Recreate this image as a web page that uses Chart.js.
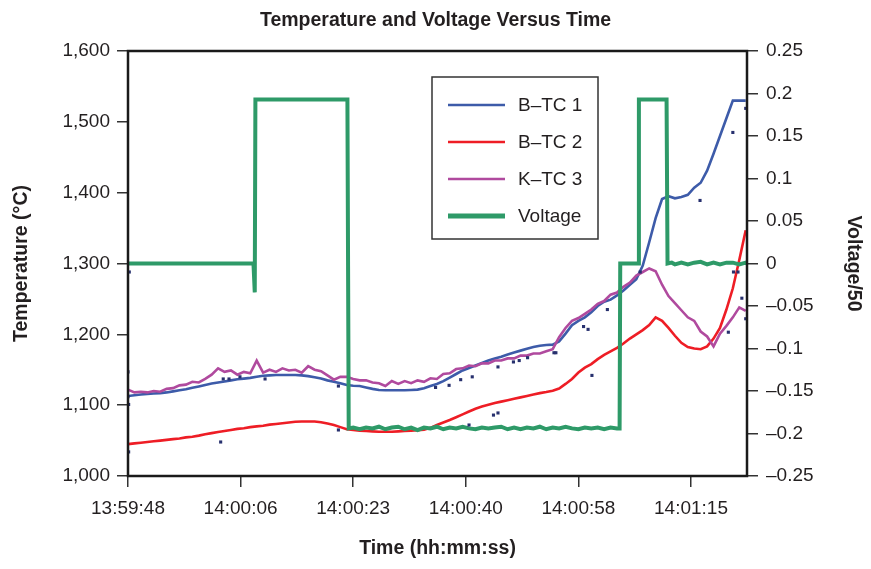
<!DOCTYPE html>
<html>
<head>
<meta charset="utf-8">
<script src="https://cdn.jsdelivr.net/npm/chart.js@4.4.1/dist/chart.umd.min.js"></script>
<style>
html,body{margin:0;padding:0;background:#ffffff;}
#wrap{width:871px;height:569px;position:relative;}
</style>
</head>
<body>
<div id="wrap"><canvas id="c" width="871" height="569"></canvas></div>
<script>
// ---------- data ----------
const xTickValues = [0, 17.5, 35, 52.5, 70, 87.5];
const xTickLabels = ['13:59:48', '14:00:06', '14:00:23', '14:00:40', '14:00:58', '14:01:15'];

const tempTime = [0,1,2,3,4,5,6,7,8,9,10,11,12,13,14,15,16,17,18,19,20,21,22,23,24,25,26,27,28,29,30,31,32,33,34,35,36,37,38,39,40,41,42,43,44,45,46,47,48,49,50,51,52,53,54,55,56,57,58,59,60,61,62,63,64,65,66,67,68,69,70,71,72,73,74,75,76,77,78,79,80,81,82,83,84,85,86,87,88,89,90,91,92,93,94,95,96];

const btc1 = [1113,1114,1115,1116,1116.5,1117,1118,1119.5,1121,1122.5,1124.5,1126.5,1128.5,1130.5,1132,1133.5,1135,1136.5,1137.5,1138.5,1140,1141.5,1142,1142.5,1142.5,1142.5,1142.5,1142,1141,1139.5,1137.5,1135,1133,1131,1128.5,1127.5,1127,1125,1123,1121.5,1121,1121,1121,1121,1121.5,1122,1124,1127,1130,1134,1139,1144,1149,1152.5,1156,1159.5,1163,1166,1168.5,1171.5,1174.5,1177,1179.5,1182,1184,1185,1185.5,1190,1201,1213,1219,1224,1231,1240,1246,1249,1255,1262,1270,1278,1297,1330,1364,1391,1395,1392,1394,1397,1407,1414,1431,1455,1480,1505,1530,1530,1530];

const btc2 = [1045,1046,1047,1048,1049,1050,1051,1052,1053,1054.5,1055.5,1057,1059,1060.5,1062,1063.5,1065,1066.5,1067.5,1069,1070,1071,1072.5,1073.5,1074.5,1075.5,1076.5,1077,1077,1077,1076,1074,1072,1069,1066,1065,1064,1063.5,1063,1062.5,1062.5,1062.5,1063,1063.5,1064,1064.5,1065.5,1068,1072,1075.5,1079,1083,1087,1091,1095,1098,1100.5,1103,1105,1107,1109,1111,1113,1115,1117,1118.5,1120.5,1123.5,1130,1137,1146,1153,1158,1165,1171,1176,1181,1187,1194,1200,1206,1213,1224,1219,1209,1198,1188,1182,1180,1179,1183,1194,1209,1235,1265,1305,1347];

const ktc3 = [1122,1118,1119,1118,1120,1119,1123,1124,1128,1129,1133,1132,1137,1143,1152,1147,1149,1143,1147,1145,1163,1146,1150,1147,1152,1149,1150,1146,1155,1150,1148,1142,1136,1140,1140,1137,1135,1135,1132,1131,1127,1134,1130,1134,1131,1135,1133,1138,1137,1144,1145,1151,1152,1156,1155,1159,1159,1163,1163,1166,1166,1170,1170,1173,1173,1176,1179,1196,1209,1219,1223,1229,1235,1243,1247,1256,1259,1267,1273,1283,1288,1293,1289,1270,1254,1244,1234,1224,1219,1204,1197,1183,1201,1212,1224,1238,1233];

const voltTime = [0,19.5,19.7,19.8,34.1,34.3,35,36,37,38,39,40,41,42,43,44,45,46,47,48,49,50,51,52,53,54,55,56,57,58,59,60,61,62,63,64,65,66,67,68,69,70,71,72,73,74,75,76,76.4,76.5,79.3,79.4,83.7,83.85,84.5,85,86,87,88,89,90,91,92,93,94,95,96,96.2];
const voltage = [0,0,-0.034,0.193,0.193,-0.194,-0.193,-0.195,-0.193,-0.194,-0.192,-0.195,-0.193,-0.192,-0.195,-0.193,-0.196,-0.193,-0.194,-0.192,-0.195,-0.193,-0.194,-0.192,-0.194,-0.195,-0.193,-0.194,-0.193,-0.192,-0.195,-0.193,-0.195,-0.193,-0.194,-0.192,-0.195,-0.193,-0.194,-0.192,-0.194,-0.195,-0.193,-0.194,-0.193,-0.195,-0.193,-0.194,-0.194,0,0,0.193,0.193,0,0.001,-0.001,0.001,-0.001,0.001,0.002,-0.001,0.001,-0.001,0.001,0.001,-0.001,0.001,0];

const dotTime = [0.2,0,0,0.1,0.1,14.4,14.8,15.7,17.4,21.3,32.7,32.7,47.8,49.9,51.7,53.5,57.5,59.9,60.8,62.1,66.2,66.5,56.8,57.5,53.0,70.8,71.5,72.1,74.5,79.6,88.9,94.0,96.0,94.1,94.8,95.4,93.3,96.0];
const dotTemp = [1288,1147,1112,1101,1034,1048,1137,1137,1140,1137,1127,1065,1125,1128,1136,1140,1154,1161,1163,1167,1174,1174,1086,1089,1072,1211,1207,1142,1235,1288,1389,1485,1519,1288,1288,1251,1203,1222];

const seriesLabels = ['B\u2013TC 1', 'B\u2013TC 2', 'K\u2013TC 3', 'Voltage'];

// ---------- helpers ----------
const FONT = '"Liberation Sans", Arial, sans-serif';
const TXT = '#231f20';
const pairs = (xs, ys) => xs.map((x, i) => ({x: x, y: ys[i]}));

const framePlugin = {
  id: 'frame',
  afterDatasetsDraw(chart) {
    const a = chart.chartArea, ctx = chart.ctx;
    ctx.save();
    ctx.strokeStyle = '#1a1a1a';
    ctx.lineWidth = 2.5;
    ctx.strokeRect(a.left, a.top, a.right - a.left, a.bottom - a.top);
    ctx.restore();
  }
};

const legendPlugin = {
  id: 'boxLegend',
  afterDraw(chart) {
    const ctx = chart.ctx;
    const items = chart.data.datasets.filter(d => d.inLegend);
    ctx.save();
    ctx.strokeStyle = '#333333';
    ctx.lineWidth = 1.5;
    ctx.fillStyle = '#ffffff';
    ctx.fillRect(432, 77, 166, 162);
    ctx.strokeRect(432, 77, 166, 162);
    ctx.font = '19px ' + FONT;
    ctx.textBaseline = 'middle';
    ctx.textAlign = 'left';
    items.forEach((d, i) => {
      const y = 105 + i * 37;
      ctx.strokeStyle = d.borderColor;
      ctx.lineWidth = d.legendWidth;
      ctx.beginPath();
      ctx.moveTo(448, y);
      ctx.lineTo(505, y);
      ctx.stroke();
      ctx.fillStyle = TXT;
      ctx.fillText(d.label, 518, y + 1);
    });
    ctx.restore();
  }
};

const fmtRight = v => {
  const r = Math.round(v * 100) / 100;
  return (r < 0 ? '\u2013' : '') + String(Math.abs(r));
};

new Chart(document.getElementById('c'), {
  type: 'line',
  data: {
    datasets: [
      {label: seriesLabels[0], data: pairs(tempTime, btc1), yAxisID: 'y', borderColor: '#3d5ba9', borderWidth: 2.6, pointRadius: 0, tension: 0, order: 4, inLegend: true, legendWidth: 2.6},
      {label: seriesLabels[1], data: pairs(tempTime, btc2), yAxisID: 'y', borderColor: '#ee1d25', borderWidth: 2.6, pointRadius: 0, tension: 0, order: 3, inLegend: true, legendWidth: 2.6},
      {label: seriesLabels[2], data: pairs(tempTime, ktc3), yAxisID: 'y', borderColor: '#b04a9e', borderWidth: 2.6, pointRadius: 0, tension: 0, order: 2, inLegend: true, legendWidth: 2.6},
      {label: seriesLabels[3], data: pairs(voltTime, voltage), yAxisID: 'y2', borderColor: '#2e9a68', borderWidth: 4, pointRadius: 0, tension: 0, order: 1, inLegend: true, legendWidth: 5},
      {label: 'points', type: 'scatter', data: pairs(dotTime, dotTemp), yAxisID: 'y', showLine: false, pointStyle: 'rect', pointRadius: 2.2, backgroundColor: '#27306e', borderColor: '#27306e', borderWidth: 0, order: 0, inLegend: false}
    ]
  },
  options: {
    responsive: false,
    animation: false,
    devicePixelRatio: 1,
    layout: {padding: 0},
    plugins: {
      legend: {display: false},
      tooltip: {enabled: false},
      title: {
        display: true,
        text: 'Temperature and Voltage Versus Time',
        color: TXT,
        font: {family: FONT, size: 19.5, weight: 'bold', lineHeight: 1.2},
        padding: {top: 9, bottom: 18.6}
      }
    },
    scales: {
      x: {
        type: 'linear', position: 'bottom', min: 0, max: 96.2,
        afterBuildTicks: s => { s.ticks = xTickValues.map(v => ({value: v})); },
        afterFit: s => { s.height = 93; },
        ticks: {
          autoSkip: false, maxRotation: 0, padding: 10, color: TXT,
          font: {family: FONT, size: 19},
          callback: (v, i) => xTickLabels[i]
        },
        grid: {drawOnChartArea: false, drawTicks: true, tickLength: 11, color: '#333333', lineWidth: 1.5},
        border: {display: false},
        title: {display: true, text: 'Time (hh:mm:ss)', color: TXT, font: {family: FONT, size: 19.5, weight: 'bold'}, padding: {top: 0, bottom: 8.3}}
      },
      y: {
        position: 'left', min: 1000, max: 1600,
        afterFit: s => { s.width = 128; },
        ticks: {stepSize: 100, padding: 7, color: TXT, font: {family: FONT, size: 19}},
        grid: {drawOnChartArea: false, drawTicks: true, tickLength: 11, color: '#333333', lineWidth: 1.5},
        border: {display: false},
        title: {display: true, text: 'Temperature (\u00B0C)', color: TXT, font: {family: FONT, size: 19.5, weight: 'bold'}, padding: {top: 10.3, bottom: 0}}
      },
      y2: {
        position: 'right', min: -0.25, max: 0.25,
        afterFit: s => { s.width = 124; },
        ticks: {stepSize: 0.05, padding: 8, color: TXT, font: {family: FONT, size: 19}, callback: v => fmtRight(v)},
        grid: {drawOnChartArea: false, drawTicks: true, tickLength: 11, color: '#333333', lineWidth: 1.5},
        border: {display: false},
        title: {display: true, text: 'Voltage/50', color: TXT, font: {family: FONT, size: 19.5, weight: 'bold'}, padding: {top: 6.3, bottom: 0}}
      }
    }
  },
  plugins: [framePlugin, legendPlugin]
});
</script>
</body>
</html>
